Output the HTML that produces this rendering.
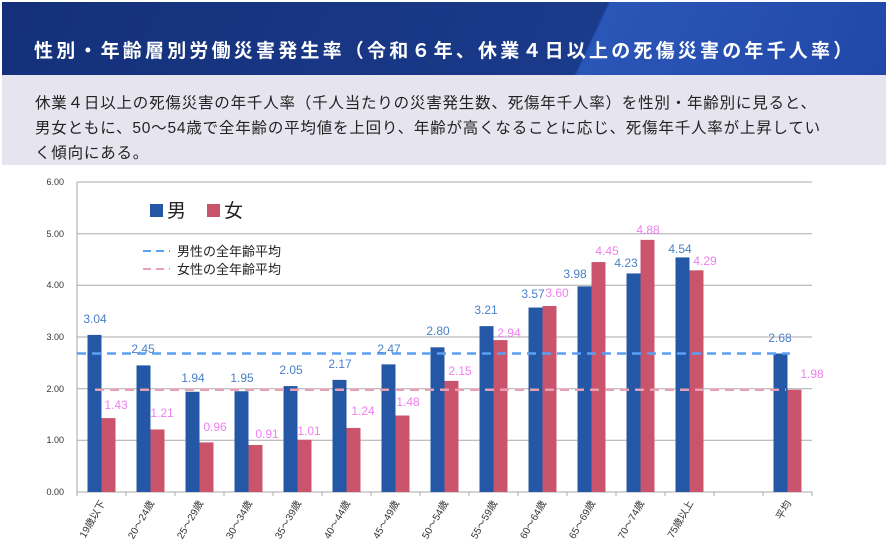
<!DOCTYPE html>
<html><head><meta charset="utf-8"><style>
body{margin:0;width:886px;height:548px;background:#fff;overflow:hidden;font-family:"Liberation Sans","Noto Sans CJK JP",sans-serif;}
.hd{position:absolute;left:2px;top:2px;width:884px;height:73px;background:linear-gradient(115deg,#14307a 0%,#1a3a8a 66%,#2a56b8 66.3%,#2148a8 100%);}
.hd span{position:absolute;left:32px;top:34px;color:#fff;font-weight:bold;font-size:19px;letter-spacing:3.2px;white-space:nowrap;}
.bx{position:absolute;left:2px;top:75px;width:884px;height:90px;background:#e6e4ee;}
.bx p{margin:0;position:absolute;left:33px;top:16px;font-size:15.5px;line-height:25px;color:#222;letter-spacing:0.8px;white-space:nowrap;}
svg{position:absolute;left:0;top:0}
</style></head><body>
<div class="hd"><span>性別・年齢層別労働災害発生率（令和６年、休業４日以上の死傷災害の年千人率）</span></div>
<div class="bx"><p>休業４日以上の死傷災害の年千人率（千人当たりの災害発生数、死傷年千人率）を性別・年齢別に見ると、<br>男女ともに、50～54歳で全年齢の平均値を上回り、年齢が高くなることに応じ、死傷年千人率が上昇してい<br>く傾向にある。</p></div>
<svg width="886" height="548" font-family="Liberation Sans, Noto Sans CJK JP, sans-serif">
<g stroke="#aaa" stroke-width="1">
<line x1="77" y1="182" x2="812" y2="182"/><line x1="77" y1="233.7" x2="812" y2="233.7"/><line x1="77" y1="285.3" x2="812" y2="285.3"/><line x1="77" y1="337" x2="812" y2="337"/><line x1="77" y1="388.7" x2="812" y2="388.7"/><line x1="77" y1="440.3" x2="812" y2="440.3"/><line x1="77" y1="492" x2="812" y2="492"/>
<line x1="77" y1="182" x2="77" y2="496"/>
</g>
<g font-size="9" fill="#333" text-anchor="end">
<text x="64" y="185">6.00</text><text x="64" y="237">5.00</text><text x="64" y="288">4.00</text><text x="64" y="340">3.00</text><text x="64" y="392">2.00</text><text x="64" y="443">1.00</text><text x="64" y="495">0.00</text>
</g>
<g id="bars"></g>
<line x1="77" y1="353.5" x2="790" y2="353.5" stroke="#5aa0f5" stroke-width="2.5" stroke-dasharray="9,6"/>
<line x1="95" y1="389.7" x2="786" y2="389.7" stroke="#e8a0b4" stroke-width="2.5" stroke-dasharray="9,6"/>
<rect x="150" y="204" width="13" height="13" fill="#2458a6"/><text x="167" y="217" font-size="19" fill="#222">男</text>
<rect x="207" y="204" width="13" height="13" fill="#c9546b"/><text x="224" y="217" font-size="19" fill="#222">女</text>
<line x1="143" y1="251" x2="170" y2="251" stroke="#5aa0f5" stroke-width="2" stroke-dasharray="8,5"/>
<line x1="143" y1="269" x2="170" y2="269" stroke="#e8a0b4" stroke-width="2" stroke-dasharray="8,5"/>
<text x="177" y="256" font-size="13" fill="#222">男性の全年齢平均</text>
<text x="177" y="274" font-size="13" fill="#222">女性の全年齢平均</text>
<g id="lab" font-size="12" text-anchor="middle" dominant-baseline="central"></g>
<g id="xl" font-size="10" fill="#333" text-anchor="end"></g>
<g id="tk" stroke="#aaa"></g>
</svg>
<script>
var m=[3.04,2.45,1.94,1.95,2.05,2.17,2.47,2.80,3.21,3.57,3.98,4.23,4.54,null,2.68];
var f=[1.43,1.21,0.96,0.91,1.01,1.24,1.48,2.15,2.94,3.60,4.45,4.88,4.29,null,1.98];
var cats=["19歳以下","20～24歳","25～29歳","30～34歳","35～39歳","40～44歳","45～49歳","50～54歳","55～59歳","60～64歳","65～69歳","70～74歳","75歳以上","","平均"];
var bl=[[95,319],[143,349],[193,378],[242,378],[291,370],[340,364],[389,349],[438,331],[486,310],[533,294],[575,274],[626,263],[680,249],null,[780,338]];
var pl=[[116,405],[162,413],[215,427],[267,434],[309,431],[363,411],[408,402],[460,371],[509,333],[557,293],[607,251],[648,230],[705,261],null,[812,374]];
var ns="http://www.w3.org/2000/svg",B=document.getElementById("bars"),L=document.getElementById("lab"),X=document.getElementById("xl"),T=document.getElementById("tk");
function el(t,a,p,tx){var e=document.createElementNS(ns,t);for(var k in a)e.setAttribute(k,a[k]);if(tx)e.textContent=tx;p.appendChild(e);}
var s=51.67;
for(var i=0;i<15;i++){var c=77+49*(i+0.5);
el("line",{x1:77+49*(i+1),y1:492,x2:77+49*(i+1),y2:496},T);
if(m[i]!=null){el("rect",{x:c-14,y:492-m[i]*s,width:14,height:m[i]*s,fill:"#2458a6"},B);
el("rect",{x:c,y:492-f[i]*s,width:14,height:f[i]*s,fill:"#c9546b"},B);
el("text",{x:bl[i][0],y:bl[i][1],fill:"#4a80c8"},L,m[i].toFixed(2));
el("text",{x:pl[i][0],y:pl[i][1],fill:"#f07ef0"},L,f[i].toFixed(2));}
if(cats[i])el("text",{transform:"translate("+(c+4)+",503) rotate(-60)"},X,cats[i]);}
</script>
</body></html>
